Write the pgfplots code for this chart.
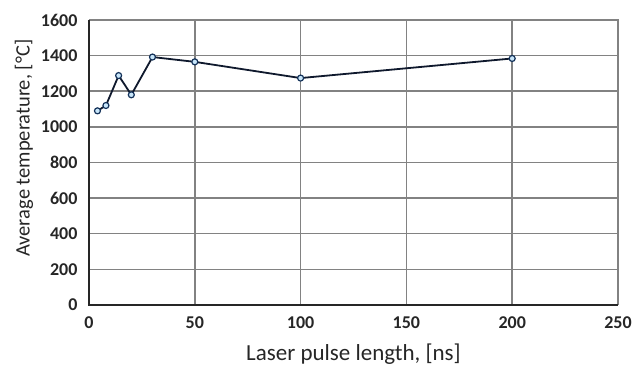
\documentclass[border=0pt]{standalone}
\usepackage{pgfplots}
\pgfplotsset{compat=1.18}
\usepackage{fontspec}
\setmainfont{Carlito}
\definecolor{gridgray}{RGB}{130,130,130}
\definecolor{linecol}{RGB}{15,25,45}
\definecolor{markfill}{RGB}{200,230,250}
\definecolor{markedge}{RGB}{20,50,90}
\begin{document}
\begin{tikzpicture}
\path[use as bounding box] (-89pt,-62pt) rectangle (544pt,305pt);
\begin{axis}[
  at={(0pt,0pt)}, anchor=origin,
  scale only axis, width=529pt, height=285pt,
  xmin=0, xmax=250, ymin=0, ymax=1600,
  xtick={0,50,...,250}, ytick={0,200,...,1600},
  grid=major,
  grid style={gridgray, line width=1.5pt},
  axis line style={draw=none},
  tick style={draw=none},
  /pgf/number format/assume math mode=true,
  /pgf/number format/1000 sep={},
  tick label style={font=\fontsize{18}{20}\selectfont\bfseries, text=black!85},
  xticklabel style={yshift=-8pt},
  yticklabel style={xshift=-8pt},
  xlabel={Laser pulse length, [ns]},
  ylabel={Average temperature, [°C]},
  xlabel style={font=\fontsize{23}{26}\selectfont, text=black!85, at={(axis description cs:0.5,0)}, anchor=center, yshift=-49pt},
  ylabel style={font=\fontsize{20.5}{24}\selectfont, text=black!85, at={(axis description cs:0,0.55)}, anchor=center, yshift=65pt},
  clip=false,
]
\draw[gridgray, line width=1.5pt] (axis cs:250,0) -- (axis cs:250,1600) -- (axis cs:0,1600);
\draw[black!85, line width=2pt] (axis cs:0,1600) -- (axis cs:0,0) -- (axis cs:250,0);
\addplot[linecol, line width=1.8pt, mark=*, mark size=3pt,
  mark options={fill=markfill, draw=markedge, line width=1.2pt}]
  coordinates {
  (4,1090) (8,1120) (14,1288) (20,1180) (30,1392) (50,1365) (100,1274) (200,1384)
  };
\end{axis}
\end{tikzpicture}
\end{document}
